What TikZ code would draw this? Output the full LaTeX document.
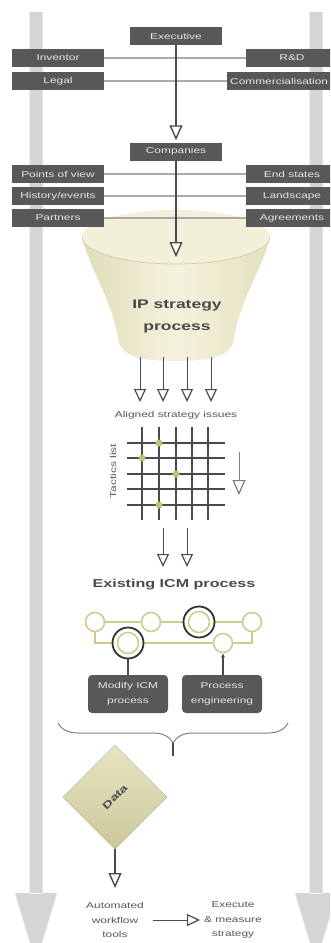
\documentclass[tikz,border=0pt]{standalone}
\usepackage{fontspec}
\setmainfont{Liberation Sans}
\newfontfamily\widefont[FakeStretch=1.4]{Liberation Sans}
\usetikzlibrary{arrows.meta,decorations.pathreplacing,shapes.geometric}

\definecolor{barg}{HTML}{D5D5D5}
\definecolor{boxg}{HTML}{58585A}
\definecolor{boxtext}{HTML}{E6E6E6}
\definecolor{hlineg}{HTML}{AAAAAA}
\definecolor{darkg}{HTML}{4A4A4C}
\definecolor{labelg}{HTML}{555555}
\definecolor{olivel}{HTML}{CFC98B}
\definecolor{dotc}{HTML}{C6C070}
\definecolor{funL}{HTML}{E0DDBA}
\definecolor{funM}{HTML}{F4F2DC}
\definecolor{funR}{HTML}{E4E1C0}
\definecolor{rimc}{HTML}{F2F0D8}
\definecolor{rimline}{HTML}{D2CEA6}
\definecolor{diaT}{HTML}{E8E4C2}
\definecolor{diaB}{HTML}{CDC89B}

\begin{document}
\begin{tikzpicture}[x=1pt,y=-1pt,
  box/.style={fill=boxg, text=boxtext, font=\widefont\fontsize{8.5}{10}\selectfont,
    minimum width=92pt, minimum height=18pt, inner sep=0pt},
  pbox/.style={fill=boxg, text=boxtext, rounded corners=4pt, align=center,
    font=\widefont\fontsize{8.5}{15}\selectfont, minimum width=80pt, minimum height=38pt, inner sep=0pt},
  hline/.style={draw=hlineg, line width=2.5pt},
  vline/.style={draw=darkg, line width=1.6pt},
  thin arrow/.style={draw=darkg, line width=1pt},
  openhead/.style={-{Triangle[length=15pt,width=13pt,fill=white,line width=1.4pt]}},
  smallhead/.style={-{Triangle[length=13pt,width=12pt,fill=white,line width=1.2pt]}},
  label/.style={text=labelg, font=\widefont\fontsize{8.5}{14.5}\selectfont, align=center, inner sep=1pt},
  gridl/.style={draw=darkg, line width=1.5pt},
  olive/.style={draw=olivel, line width=1.5pt},
  smallc/.style={circle, draw=olivel, line width=1.5pt, fill=white, minimum size=19pt, inner sep=0pt},
  bigc/.style={circle, draw=black!80, line width=1.8pt, fill=white, minimum size=31pt, inner sep=0pt,
    path picture={\draw[olivel, line width=1.5pt] (path picture bounding box.center) circle (10.5pt);}},
]
\useasboundingbox (0,0) rectangle (330,943);
\clip (0,0) rectangle (330,943);

% side flow arrows
\fill[barg] (29.5,12) rectangle (42.5,894) (15,893) -- (57,893) -- (36,963) -- cycle;
\fill[barg] (309.5,12) rectangle (322.5,894) (295,893) -- (337,893) -- (316,963) -- cycle;

% funnel body and rim
\shade[left color=funL, right color=funR, middle color=funM]
  (82,237) .. controls (88,265) and (112,300) .. (118,338)
  .. controls (120,356) and (140,361) .. (176,361)
  .. controls (212,361) and (232,356) .. (234,338)
  .. controls (240,300) and (264,265) .. (270,237) -- cycle;
\fill[rimc] (176,237) ellipse [x radius=94, y radius=27];
\draw[rimline, line width=0.8pt] (82,237) arc [start angle=180, end angle=360, x radius=94, y radius=-27];
\node[text=darkg, font=\widefont\bfseries\fontsize{12.5}{22}\selectfont, align=center] (ip) at (177,316) {IP strategy\\process};

% boxes
\node[box] (exec) at (176,36) {Executive};
\node[box] (inv) at (58,58) {Inventor};
\node[box] (rd) at (292,58) {R\&D};
\node[box] (legal) at (58,81) {Legal};
\node[box, minimum width=0pt, inner xsep=3pt, anchor=west] (comm) at (227,81) {Commercialisation};
\node[box] (comp) at (176,151.5) {Companies};
\node[box] (pov) at (58,174) {Points of view};
\node[box] (end) at (292,174) {End states};
\node[box] (hist) at (58,196) {History/events};
\node[box] (land) at (292,196) {Landscape};
\node[box] (part) at (58,218) {Partners};
\node[box] (agr) at (292,218) {Agreements};

% horizontal feeds
\draw[hline] (inv.east) -- (rd.west);
\draw[hline] (legal.east) -- (comm.west);
\draw[hline] (pov.east) -- (end.west);
\draw[hline] (hist.east) -- (land.west);
\draw[hline] (part.east) -- (agr.west);

% main vertical flow
\coordinate (ftip) at (176,257);
\draw[vline, openhead, shorten >=2pt] (exec.south) -- (comp.north);
\draw[vline, openhead] (comp.south) -- (ftip);

% funnel outputs
\node[label] (aligned) at (176,415) {Aligned strategy issues};
\foreach \x [count=\i] in {140,163,187,211} {
  \coordinate (fo\i) at (\x,357);
  \coordinate (fe\i) at (\x,402);
  \draw[thin arrow, smallhead] (fo\i) -- (fe\i);
}

% tactics grid
\foreach \x in {142,159,176,192,208} \draw[gridl] (\x,427) -- (\x,520);
\foreach \y in {443,458,474,489,505} \draw[gridl] (127,\y) -- (225,\y);
\foreach \p in {(159,443),(142,458),(176,474),(159,505)} \fill[dotc] \p circle (3.5);
\node[label, rotate=90] (tactics) at (113,471) {Tactics list};
\coordinate (ta) at (239,452);
\coordinate (tb) at (239,495);
\draw[draw=gray, line width=1pt, -{Triangle[length=15pt,width=13pt,fill=white,line width=1.2pt]}] (ta) -- (tb);
\coordinate (g1) at (163,528); \coordinate (g1e) at (163,567);
\coordinate (g2) at (187,528); \coordinate (g2e) at (187,567);
\draw[thin arrow, smallhead] (g1) -- (g1e);
\draw[thin arrow, smallhead] (g2) -- (g2e);

% ICM process network
\node[text=darkg, font=\widefont\bfseries\fontsize{11.5}{14}\selectfont] (icm) at (174,585) {Existing ICM process};
\draw[olive] (95,622) -- (252,622);
\draw[olive] (95,622) -- (95,643) -- (252,643) -- (252,622);
\node[smallc] (c1) at (95,622) {};
\node[smallc] (c2) at (151,622) {};
\node[bigc] (c3) at (199,622) {};
\node[smallc] (c4) at (252,622) {};
\node[bigc] (c5) at (128,643) {};
\node[smallc] (c6) at (223,643) {};
\node[pbox] (modify) at (128,694) {Modify ICM\\process};
\node[pbox] (proc) at (222,694) {Process\\engineering};
\draw[darkg, line width=1.2pt] (modify.north) -- (c5.south);
\draw[darkg, line width=1.2pt, -{Latex[length=4pt,width=4pt]}] (proc.north -| c6) -- (c6.south);

% brace gathering the process work
\draw[decorate, decoration={brace, amplitude=20pt}, draw=gray, line width=1pt] (288,723) -- (58,723);
\coordinate (bt) at (173,743);
\coordinate (be) at (173,756);
\draw[darkg, line width=1.2pt] (bt) -- (be);

% data and execution
\node[diamond, aspect=1, minimum width=104pt, minimum height=104pt, inner sep=0pt,
  top color=diaT, bottom color=diaB, draw=diaB!90!black, line width=0.5pt,
  text=darkg, font=\widefont\bfseries\fontsize{10}{12}\selectfont] (data) at (115,797) {\rotatebox{45}{Data}};
\node[label] (auto) at (115,920) {Automated\\workflow\\tools};
\node[label] (execm) at (233,920) {Execute\\\& measure\\strategy};
\coordinate (at) at (115,888);
\draw[thin arrow, line width=1.2pt, openhead] (data.south) -- (at);
\draw[thin arrow, smallhead, shorten <=8pt, shorten >=3pt] (auto.east) -- (execm.west);
\end{tikzpicture}
\end{document}
